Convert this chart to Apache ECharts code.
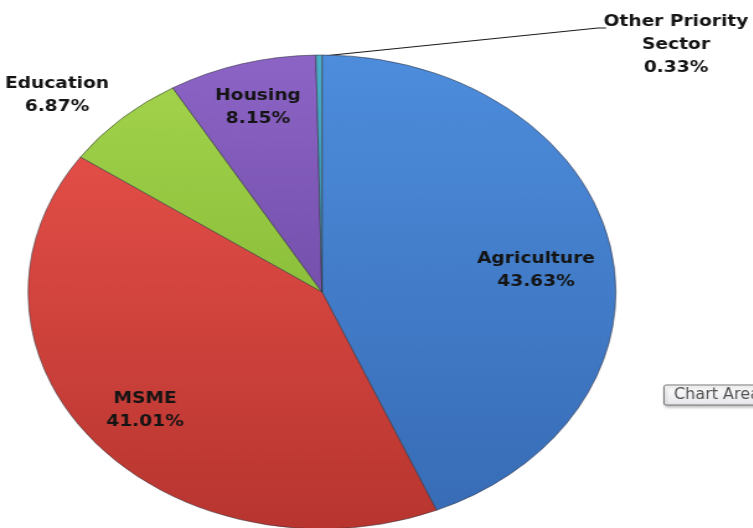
<!DOCTYPE html>
<html>
<head>
<meta charset="utf-8">
<script src="https://cdn.jsdelivr.net/npm/echarts@6/dist/echarts.min.js"></script>
<style>
  html, body { margin: 0; padding: 0; background: #fff; overflow: hidden; }
  #wrap { width: 753px; height: 528px; overflow: hidden; position: relative; }
  #chart { width: 608px; height: 528px; transform: scaleX(1.24); transform-origin: 0 0; position: absolute; left: 0; top: 0; }
</style>
</head>
<body>
<div id="wrap"><div id="chart"></div></div>
<script>
// Data
var categories = ['Agriculture', 'MSME', 'Education', 'Housing', 'Other Priority\nSector'];
var shares = [43.63, 41.01, 6.87, 8.15, 0.33];
var shareLabels = ['43.63%', '41.01%', '6.87%', '8.15%', '0.33%'];

// Styles (kept apart from data)
var SX = 1.24; // horizontal stretch of the reference picture
var topColors = ['#4d8ddc', '#e24d47', '#a2d24c', '#8c64c6', '#4bb0cc'];
var bottomColors = ['#386cb6', '#b8352f', '#8cbf3a', '#7550ac', '#2f8aa8'];
// label centres in screen pixels
var labelPos = [[536, 271], [145, 411], [57, 96], [258, 108], [676, 45]];
var otherLine = [[323, 56], [598, 28], [606, 28]];

var chart = echarts.init(document.getElementById('chart'), null, { renderer: 'canvas' });

var data = categories.map(function (c, i) {
  return {
    name: c,
    value: shares[i],
    itemStyle: {
      color: new echarts.graphic.LinearGradient(0, 0, 0, 1, [
        { offset: 0, color: topColors[i] },
        { offset: 1, color: bottomColors[i] }
      ])
    },
    label: { formatter: c + '\n' + shareLabels[i] },
    labelLine: { show: i === 4 }
  };
});

chart.setOption({
  animation: false,
  backgroundColor: '#ffffff',
  series: [{
    type: 'pie',
    center: [322 / SX, 292],
    radius: 237,
    startAngle: 90,
    clockwise: true,
    avoidLabelOverlap: false,
    silent: true,
    itemStyle: { borderColor: 'rgba(50,50,60,0.55)', borderWidth: 1 },
    label: {
      show: true,
      position: 'outside',
      color: '#141414',
      fontFamily: 'DejaVu Sans',
      fontWeight: 'bold',
      fontSize: 15,
      lineHeight: 23,
      align: 'center'
    },
    labelLine: {
      show: false,
      lineStyle: { color: '#1a1a1a', width: 1.2 }
    },
    labelLayout: function (params) {
      var i = params.dataIndex;
      var p = labelPos[i];
      var res = {
        x: p[0] / SX,
        y: p[1],
        align: 'center',
        verticalAlign: 'middle',
        hideOverlap: false
      };
      if (i === 4) {
        res.labelLinePoints = otherLine.map(function (q) { return [q[0] / SX, q[1]]; });
      }
      return res;
    },
    data: data
  }],
  graphic: [{
    type: 'group',
    x: 664 / SX,
    y: 385,
    scaleX: 1 / SX,
    children: [{
      type: 'rect',
      shape: { x: 0, y: 0, width: 120, height: 20, r: 2 },
      style: {
        fill: new echarts.graphic.LinearGradient(0, 0, 0, 1, [
          { offset: 0, color: '#ffffff' },
          { offset: 1, color: '#e6e6ea' }
        ]),
        stroke: '#6b6b6b',
        lineWidth: 1,
        shadowBlur: 3,
        shadowOffsetX: 1,
        shadowOffsetY: 2,
        shadowColor: 'rgba(0,0,0,0.25)'
      }
    }, {
      type: 'text',
      x: 10,
      y: 10,
      style: {
        text: 'Chart Area',
        fill: '#505050',
        fontSize: 16,
        fontFamily: 'DejaVu Sans',
        verticalAlign: 'middle'
      }
    }]
  }]
});
</script>
</body>
</html>
